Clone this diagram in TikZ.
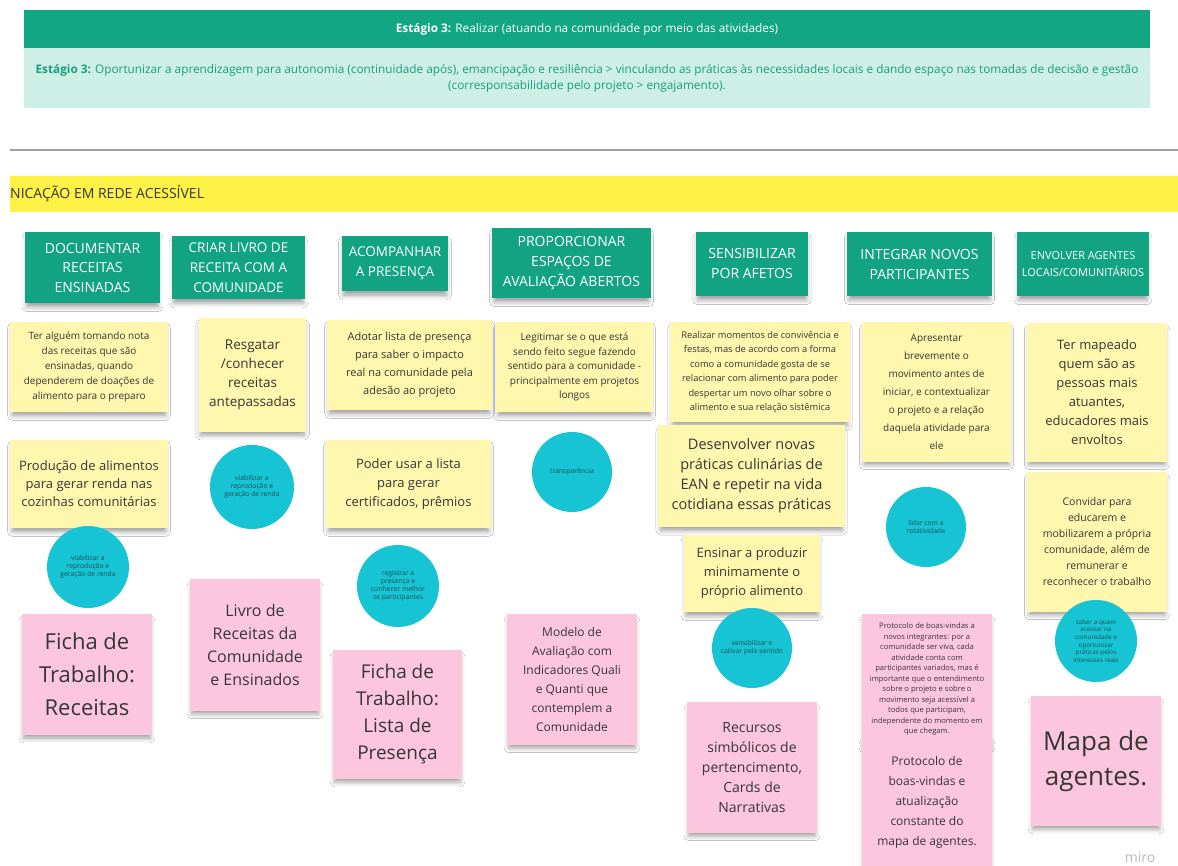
\documentclass[tikz,border=0pt]{standalone}
\usepackage{fontspec}
\setmainfont{Open Sans}
\usetikzlibrary{shadows.blur,backgrounds}

\definecolor{bandgreen}{HTML}{13A682}
\definecolor{bandmint}{HTML}{CDEFE5}
\definecolor{mintink}{HTML}{17A07E}
\definecolor{hdrgreen}{HTML}{12A382}
\definecolor{noteyellow}{HTML}{FFF7AD}
\definecolor{notepink}{HTML}{FCC7DE}
\definecolor{dotcyan}{HTML}{16C4D3}
\definecolor{dotink}{HTML}{1E4E55}
\definecolor{ink}{HTML}{363636}
\definecolor{linkgray}{HTML}{B4B4B4}
\definecolor{stripe}{HTML}{FFF246}

\tikzset{
  soft/.style={blur shadow={shadow xshift=0pt, shadow yshift=-5pt, shadow scale=0.97,
               shadow blur radius=5pt, shadow opacity=40}},
  hdrbox/.style={fill=hdrgreen, text=white, align=center, inner sep=0pt, soft},
  yel/.style={fill=noteyellow, text=ink, align=center, inner sep=0pt, soft},
  pnk/.style={fill=notepink, text=ink, align=center, inner sep=0pt, soft},
  dot/.style={circle, fill=dotcyan, text=dotink, align=center, inner sep=0pt,
              font=\fontsize{6.8}{8}\selectfont},
  link/.style={draw=linkgray, line width=1.2pt},
  sz/.style 2 args={minimum width=#1, minimum height=#2},
  f/.style 2 args={font=\fontsize{#1}{#2}\selectfont}
}

\begin{document}
\begin{tikzpicture}[x=1pt,y=-1pt]
\useasboundingbox (0,0) rectangle (1178,866);
\fill[white] (0,0) rectangle (1178,866);

% stage banners
\node[fill=bandgreen, text=white, sz={1126}{38}, inner sep=0pt, f={11.8}{14}] (stage) at (587,29)
  {\textbf{Estágio 3:} Realizar (atuando na comunidade por meio das atividades)};
\node[fill=bandmint, text=mintink, sz={1126}{60}, inner sep=0pt, align=center, f={11.8}{16}] (goal) at (587,78)
  {\textbf{Estágio 3:} Oportunizar a aprendizagem para autonomia (continuidade após), emancipação e resiliência > vinculando as práticas às necessidades locais e dando espaço nas tomadas de decisão e gestão\\
   (corresponsabilidade pelo projeto > engajamento).};

% divider and yellow stripe
\draw[gray!75, line width=2.5pt] (10,150) -- (1178,150);
\fill[stripe] (10,176) rectangle (1178,212);
\node[anchor=west, text=ink, inner sep=0pt, f={14}{16}] (stripetext) at (10,194) {NICAÇÃO EM REDE ACESSÍVEL};

% column headers
\node[hdrbox, sz={135}{71}, f={14}{19.5}] (h1) at (92.5,267.5) {DOCUMENTAR\\RECEITAS\\ENSINADAS};
\node[hdrbox, sz={133}{63}, f={13.5}{20}] (h2) at (238.5,267.5) {CRIAR LIVRO DE\\RECEITA COM A\\COMUNIDADE};
\node[hdrbox, sz={106}{55}, f={13.5}{20}] (h3) at (395,263.5) {ACOMPANHAR\\A PRESENÇA};
\node[hdrbox, sz={159}{70}, f={14}{20}] (h4) at (571.5,263) {PROPORCIONAR\\ESPAÇOS DE\\AVALIAÇÃO ABERTOS};
\node[hdrbox, sz={112}{64}, f={14}{20}] (h5) at (752,264) {SENSIBILIZAR\\POR AFETOS};
\node[hdrbox, sz={145}{64}, f={14}{20}] (h6) at (919.5,264) {INTEGRAR NOVOS\\PARTICIPANTES};
\node[hdrbox, sz={132}{64}, f={11}{17}] (h7) at (1083,264) {ENVOLVER AGENTES\\LOCAIS/COMUNITÁRIOS};

% column 1
\node[yel, sz={158}{90}, f={10}{15}] (y11) at (89,367)
  {Ter alguém tomando nota\\das receitas que são\\ensinadas, quando\\dependerem de doações de\\alimento para o preparo};
\node[yel, sz={158}{88}, f={13}{18}] (y12) at (89,484)
  {Produção de alimentos\\para gerar renda nas\\cozinhas comunitárias};
\node[dot, minimum size=82] (c1) at (88,567) {viabilizar a\\reprodução e\\geração de renda};
\node[pnk, sz={130}{121}, f={22}{33}] (p1) at (87,674.5) {Ficha de\\Trabalho:\\Receitas};

% column 2
\node[yel, sz={107}{114}, f={13.5}{19}] (y21) at (252.5,375)
  {Resgatar\\/conhecer\\receitas\\antepassadas};
\node[dot, minimum size=84] (c2) at (252,487) {viabilizar a\\reprodução e\\geração de renda};
\node[pnk, sz={130}{132}, f={16}{23}] (p2) at (255,645) {Livro de\\Receitas da\\Comunidade\\e Ensinados};

% column 3
\node[yel, sz={165}{90}, f={11}{18}] (y31) at (409.5,365)
  {Adotar lista de presença\\para saber o impacto\\real na comunidade pela\\adesão ao projeto};
\node[yel, sz={165}{88}, f={13}{19}] (y32) at (408.5,484)
  {Poder usar a lista\\para gerar\\certificados, prêmios};
\node[dot, minimum size=82] (c3) at (398,586) {registrar a\\presença e\\conhecer melhor\\os participantes};
\node[pnk, sz={129}{129}, f={19}{27}] (p3) at (397.5,714.5) {Ficha de\\Trabalho:\\Lista de\\Presença};

% column 4
\node[yel, sz={157}{90}, f={10}{14.5}] (y41) at (574.5,367)
  {Legitimar se o que está\\sendo feito segue fazendo\\sentido para a comunidade -\\principalmente em projetos\\longos};
\node[dot, minimum size=80] (c4) at (572,472) {transparência};
\coordinate (e4) at (573,574);
\node[pnk, sz={130}{131}, f={12}{19}] (p4) at (572,679.5)
  {Modelo de\\Avaliação com\\Indicadores Quali\\e Quanti que\\contemplem a\\Comunidade};

% column 5
\node[yel, sz={180}{100}, f={9.3}{14.5}] (y51) at (760,372)
  {Realizar momentos de convivência e\\festas, mas de acordo com a forma\\como a comunidade gosta de se\\relacionar com alimento para poder\\despertar um novo olhar sobre o\\alimento e sua relação sistêmica};
\node[yel, sz={187}{102}, f={14.5}{20}] (y52) at (751.5,476)
  {Desenvolver novas\\práticas culinárias de\\EAN e repetir na vida\\cotidiana essas práticas};
\node[yel, sz={136}{77}, f={13}{19}] (y53) at (752,573.5)
  {Ensinar a produzir\\minimamente o\\próprio alimento};
\node[dot, minimum size=80] (c5) at (752,648) {sensibilizar e\\cativar pelo sentido};
\node[pnk, sz={130}{131}, f={14}{20}] (p5) at (752,767.5)
  {Recursos\\simbólicos de\\pertencimento,\\Cards de\\Narrativas};

% column 6
\node[yel, sz={149}{140}, f={10}{18}] (y61) at (936.5,392)
  {Apresentar\\brevemente o\\movimento antes de\\iniciar, e contextualizar\\o projeto e a relação\\daquela atividade para\\ele};
\node[dot, minimum size=80] (c6) at (926,527) {lidar com a\\rotatividade};
\node[pnk, sz={130}{131}, f={7.6}{10.5}] (p6a) at (927,679.5)
  {Protocolo de boas-vindas a\\novos integrantes: por a\\comunidade ser viva, cada\\atividade conta com\\participantes variados, mas é\\importante que o entendimento\\sobre o projeto e sobre o\\movimento seja acessível a\\todos que participam,\\independente do momento em\\que chegam.};
\node[pnk, sz={130}{130}, f={12}{20}] (p6b) at (927,802)
  {Protocolo de\\boas-vindas e\\atualização\\constante do\\mapa de agentes.};

% column 7
\node[yel, sz={140}{139}, f={13}{19}] (y71) at (1097,392.5)
  {Ter mapeado\\quem são as\\pessoas mais\\atuantes,\\educadores mais\\envoltos};
\node[yel, sz={140}{140}, f={10.5}{16}] (y72) at (1097,542)
  {Convidar para\\educarem e\\mobilizarem a própria\\comunidade, além de\\remunerar e\\reconhecer o trabalho};
\node[dot, minimum size=82, f={6.3}{7.6}] (c7) at (1096,641) {saber a quem\\acessar na\\comunidade e\\oportunizar\\práticas pelos\\interesses reais};
\node[pnk, sz={130}{130}, f={26}{35}] (p7) at (1096,761) {Mapa de\\agentes.};

\node[text=gray!55, inner sep=0pt, f={14}{16}] (brand) at (1140,857) {miro};

% vertical connectors behind the notes
\begin{scope}[on background layer]
  \draw[link] (h1.south -| c1) -- (p1.north -| c1);
  \draw[link] (h2.south -| c2) -- (p2.north -| c2);
  \draw[link] (h3.south -| c3) -- (c3);
  \draw[link] (h4.south -| c4) -- (e4);
  \draw[link] (h5.south -| c5) -- (c5);
  \draw[link] (h6.south -| c6) -- (p6a.north -| c6);
  \draw[link] (h7.south -| c7) -- (c7);
\end{scope}
\end{tikzpicture}
\end{document}
